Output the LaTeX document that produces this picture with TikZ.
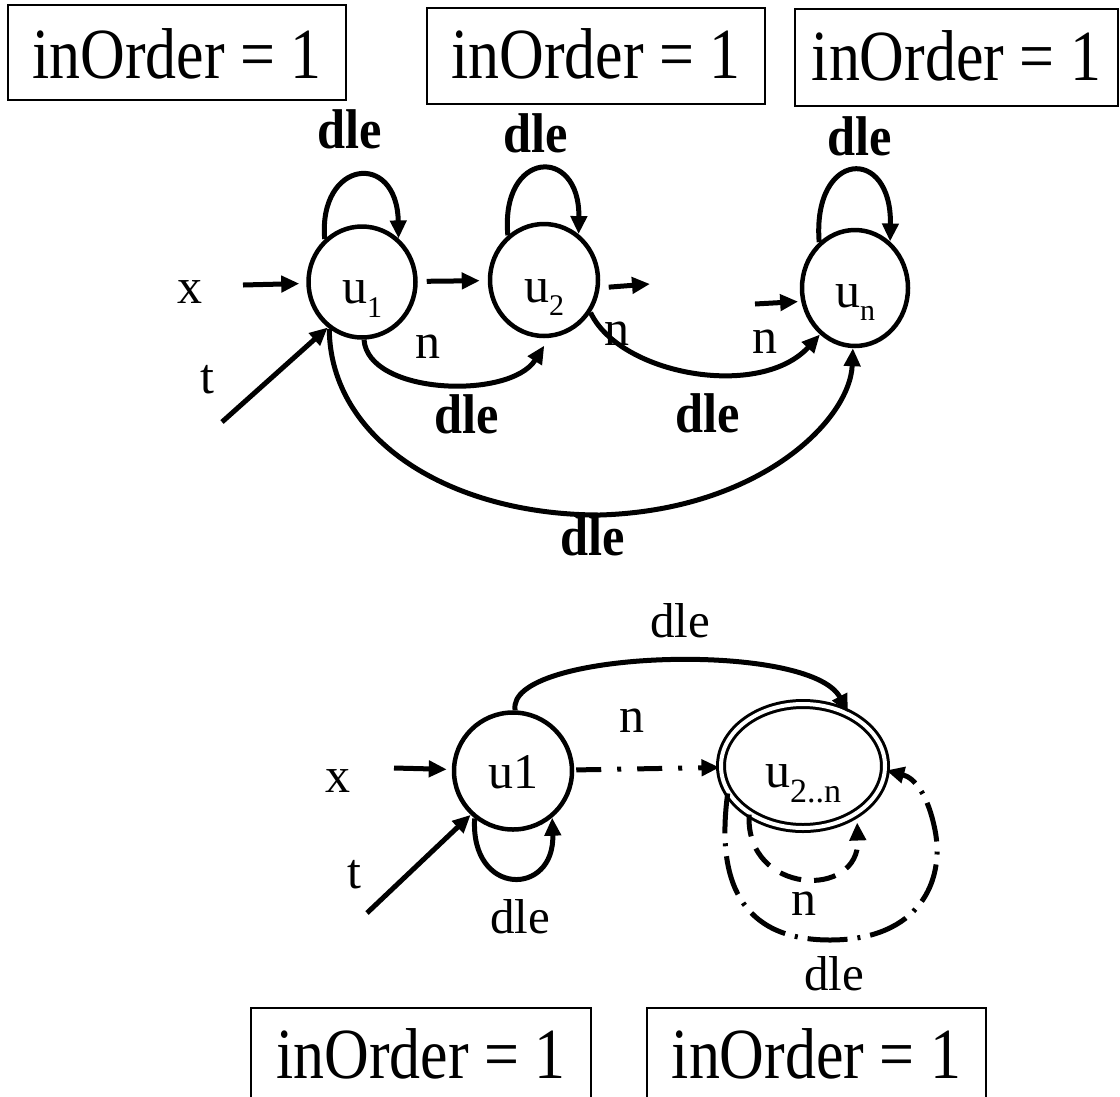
\documentclass[tikz,border=0pt]{standalone}
\usepackage{fontspec}
\setmainfont{Liberation Serif}
\usetikzlibrary{arrows.meta,shapes.geometric}
\newcommand{\fsz}[1]{\fontsize{#1}{#1}\selectfont}
\newcommand{\inord}{\scalebox{0.86}[1]{\fsz{72}inOrder = 1}}
\newcommand{\bdle}{\scalebox{0.9}[1]{dle}}
\begin{document}
\begin{tikzpicture}[x=1pt,y=-1pt,
  state/.style={ellipse, draw, line width=4.5pt, inner sep=0pt, font={\fsz{50}}},
  arr/.style={line width=5pt, -{Triangle[length=18pt,width=16pt]}},
  box/.style={draw, line width=2pt, rectangle, inner sep=0pt},
  lab/.style={anchor=base, inner sep=0pt, font={\fsz{50}}},
  bl/.style={anchor=base, inner sep=0pt, font={\fsz{56}\bfseries}},
  dl/.style={anchor=base, inner sep=0pt, font={\fsz{49}}},
]
\useasboundingbox (0,0) rectangle (1120,1096);

% boxes
\node[box, minimum width=338pt, minimum height=95pt] (b1) at (177,52.5) {\raisebox{-25.5pt}[0pt][0pt]{\inord}};
\node[box, minimum width=338pt, minimum height=96pt] (b2) at (596,56) {\raisebox{-22pt}[0pt][0pt]{\inord}};
\node[box, minimum width=323pt, minimum height=97pt] (b3) at (956.5,57.5) {\raisebox{-22.5pt}[0pt][0pt]{\inord}};
\node[box, minimum width=340pt, minimum height=110pt] (b4) at (421,1063) {\raisebox{-15pt}[0pt][0pt]{\inord}};
\node[box, minimum width=339pt, minimum height=110pt] (b5) at (816.5,1063) {\raisebox{-15pt}[0pt][0pt]{\inord}};

% top states
\node[state, minimum width=107pt, minimum height=111pt] (u1) at (362,282) {\raisebox{-21pt}[0pt][0pt]{u\raisebox{-14pt}{\fsz{30}1}}};
\node[state, minimum width=108pt, minimum height=112pt] (u2) at (544,280) {\raisebox{-22pt}[0pt][0pt]{u\raisebox{-13pt}{\fsz{30}2}}};
\node[state, minimum width=106pt, minimum height=116pt] (un) at (855,288) {\raisebox{-19pt}[0pt][0pt]{u\raisebox{-13pt}{\fsz{30}n}}};

% top labels
\node[lab] (lx) at (190,303) {x};
\node[lab] (lt) at (207,393) {t};
\node[lab] (ln1) at (428,358) {n};
\node[lab] (ln2) at (617,345) {n};
\node[lab] (ln3) at (765,353) {n};
\node[bl] (d1) at (350,148) {\bdle};
\node[bl] (d2) at (536,152) {\bdle};
\node[bl] (d3) at (860,155) {\bdle};
\node[bl] (d4) at (467,433) {\bdle};
\node[bl] (d5) at (708,432) {\bdle};
\node[bl] (d6) at (593,555) {\bdle};

% top self loops
\draw[arr] (u1.131) .. controls (318,160) and (397,150) .. (u1.50);
\draw[arr] (u2.129) .. controls (500,150) and (580,145) .. (u2.53);
\draw[arr] (un.128) .. controls (812,150) and (892,145) .. (un.53);

% top straight arrows
\coordinate (xs) at (243,285);
\draw[arr, shorten >=7pt] (xs) -- (u1);
\draw[arr, shorten <=9pt, shorten >=8pt] (u1) -- (u2);
\coordinate (s2) at (650,284);
\draw[arr, shorten <=9pt] (u2.-8) -- (s2);
\coordinate (sn) at (755,304);
\draw[arr, shorten >=3pt] (sn) -- (un.194);
\coordinate (ts) at (222,422);
\draw[arr] (ts) -- (u1.233);

% top curves
\draw[arr, shorten >=9pt] (u1.272) .. controls (368,395) and (510,400) .. (u2.275);
\draw[arr] (u2.-35) .. controls (620,375) and (760,400) .. (un.233);
\draw[arr] (u1.235) .. controls (330,440) and (450,515) .. (600,515) .. controls (760,510) and (850,420) .. (un.268);

% bottom states
\node[state, minimum width=118pt, minimum height=117pt] (bu1) at (513,771) {\raisebox{-17pt}[0pt][0pt]{u1}};
\node[state, line width=3pt, double, double distance=4pt, minimum width=164pt, minimum height=124pt] (bu2) at (803,766) {\raisebox{-21pt}[0pt][0pt]{u\raisebox{-15pt}{\fsz{34}2..n}}};

% bottom labels
\node[lab] (bx) at (338,792) {x};
\node[lab] (bt) at (354,888) {t};
\node[lab] (bn1) at (632,732) {n};
\node[dl] (bd1) at (680,637) {dle};
\node[dl] (bd2) at (520,933) {dle};
\node[lab] (bn2) at (804,915) {n};
\node[dl] (bd3) at (834,990) {dle};

% bottom arrows
\coordinate (bxs) at (394,768);
\draw[arr, shorten >=5pt] (bxs) -- (bu1);
\coordinate (bts) at (367,913);
\draw[arr] (bts) -- (bu1.226);
\draw[arr] (bu1.231) .. controls (470,897) and (555,897) .. (bu1.-50);
\draw[arr] (bu1.88) .. controls (505,650) and (810,640) .. (bu2.50);
\draw[arr, dash pattern=on 25pt off 16pt on 4pt off 16pt, shorten <=2pt] (bu1) -- (bu2);
\draw[arr, dash pattern=on 22pt off 13pt, shorten >=8pt] (bu2.222) .. controls (745,895) and (860,900) .. (bu2.318);
\draw[arr, dash pattern=on 40pt off 10pt on 3pt off 10pt] (bu2.200) .. controls (716,880) and (740,940) .. (830,940) .. controls (920,940) and (945,880) .. (935,830) .. controls (928,795) and (915,778) .. (bu2.-3);
\end{tikzpicture}
\end{document}
